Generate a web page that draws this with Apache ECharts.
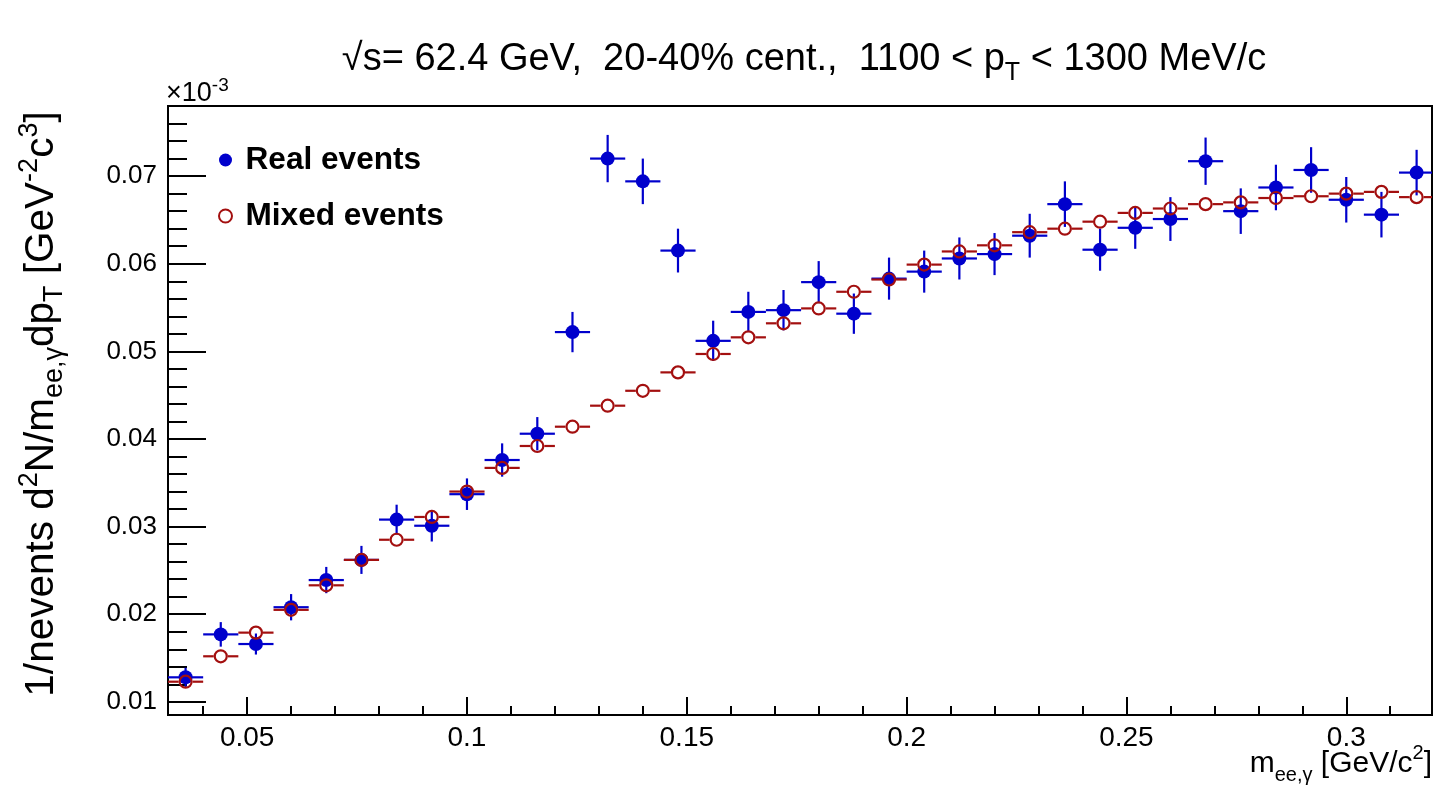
<!DOCTYPE html>
<html>
<head>
<meta charset="utf-8">
<script src="https://cdn.jsdelivr.net/npm/echarts@6/dist/echarts.min.js"></script>
<style>
  html, body { margin: 0; padding: 0; background: #fff; }
  #chart { width: 1436px; height: 786px; }
</style>
</head>
<body>
<div id="chart"></div>
<script>
// Bin centres of the m_ee,gamma histogram (GeV/c^2), bin width 0.008
const bins = [0.036, 0.044, 0.052, 0.060, 0.068, 0.076, 0.084, 0.092, 0.100, 0.108,
              0.116, 0.124, 0.132, 0.140, 0.148, 0.156, 0.164, 0.172, 0.180, 0.188,
              0.196, 0.204, 0.212, 0.220, 0.228, 0.236, 0.244, 0.252, 0.260, 0.268,
              0.276, 0.284, 0.292, 0.300, 0.308, 0.316];
const binHalfWidth = 0.004;

// Same-event pairs (x10^-3)
const realValues = [0.0128, 0.0177, 0.0166, 0.0208, 0.0239, 0.0262, 0.0308, 0.0301, 0.0337, 0.0376,
                    0.0406, 0.0522, 0.0720, 0.0694, 0.0615, 0.0512, 0.0545, 0.0547, 0.0579, 0.0543,
                    0.0583, 0.0591, 0.0606, 0.0611, 0.0632, 0.0668, 0.0616, 0.0641, 0.0651, 0.0717,
                    0.0660, 0.0687, 0.0707, 0.0673, 0.0656, 0.0704];
const realErrors = [0.0011, 0.0014, 0.0012, 0.0015, 0.0015, 0.0016, 0.0017, 0.0018, 0.0018, 0.0019,
                    0.0019, 0.0023, 0.0027, 0.0026, 0.0025, 0.0023, 0.0023, 0.0023, 0.0024, 0.0023,
                    0.0024, 0.0024, 0.0024, 0.0024, 0.0025, 0.0026, 0.0024, 0.0024, 0.0025, 0.0027,
                    0.0026, 0.0026, 0.0026, 0.0026, 0.0026, 0.0026];

// Mixed-event background (x10^-3)
const mixedValues = [0.0123, 0.0152, 0.0179, 0.0205, 0.0233, 0.0262, 0.0285, 0.0311, 0.0340, 0.0367,
                     0.0392, 0.0414, 0.0438, 0.0455, 0.0476, 0.0497, 0.0516, 0.0532, 0.0549, 0.0568,
                     0.0582, 0.0599, 0.0614, 0.0621, 0.0636, 0.0640, 0.0648, 0.0658, 0.0663, 0.0668,
                     0.0670, 0.0675, 0.0677, 0.0680, 0.0682, 0.0676];

// Axis ticks
const xMajorTicks = [0.05, 0.1, 0.15, 0.2, 0.25, 0.3];
const xMinorTicks = [0.04, 0.06, 0.07, 0.08, 0.09, 0.11, 0.12, 0.13, 0.14, 0.16, 0.17, 0.18, 0.19,
                     0.21, 0.22, 0.23, 0.24, 0.26, 0.27, 0.28, 0.29, 0.31];
const yMajorTicks = [0.01, 0.02, 0.03, 0.04, 0.05, 0.06, 0.07];
const yMinorTicks = [0.012, 0.014, 0.016, 0.018, 0.022, 0.024, 0.026, 0.028, 0.032, 0.034, 0.036, 0.038,
                     0.042, 0.044, 0.046, 0.048, 0.052, 0.054, 0.056, 0.058, 0.062, 0.064, 0.066, 0.068,
                     0.072, 0.074, 0.076];

const FONT = "'Liberation Sans', Arial, Helvetica, sans-serif";
const BLUE = '#0000cc';
const RED = '#a30f0f';
const X_MIN = 0.032, X_MAX = 0.3195, Y_MIN = 0.0085, Y_MAX = 0.078;

const realData = bins.map((b, i) => [b, realValues[i], realErrors[i]]);
const mixedData = bins.map((b, i) => [b, mixedValues[i], 0]);

function errorBars(color, gap) {
  return function (params, api) {
    const x = api.value(0), y = api.value(1), e = api.value(2);
    const c = api.coord([x, y]);
    const lo = api.coord([x - binHalfWidth, y]);
    const hi = api.coord([x + binHalfWidth, y]);
    const style = { stroke: color, lineWidth: 2.2 };
    const children = [
      { type: 'line', shape: { x1: lo[0], y1: c[1], x2: c[0] - gap, y2: c[1] }, style },
      { type: 'line', shape: { x1: c[0] + gap, y1: c[1], x2: hi[0], y2: c[1] }, style }
    ];
    if (e > 0) {
      const top = api.coord([x, y + e]);
      const bot = api.coord([x, y - e]);
      children.push({ type: 'line', shape: { x1: c[0], y1: top[1], x2: c[0], y2: bot[1] }, style });
    }
    return { type: 'group', children };
  };
}

const tickFmt = v => String(+(+v).toFixed(3));

function richSet(main, small, lh) {
  return {
    n: { fontFamily: FONT, fontSize: main, lineHeight: lh, color: '#000' },
    sup: { fontFamily: FONT, fontSize: small, verticalAlign: 'top', color: '#000' },
    sub: { fontFamily: FONT, fontSize: small, verticalAlign: 'bottom', color: '#000' }
  };
}

const chart = echarts.init(document.getElementById('chart'), null, { renderer: 'canvas' });
chart.setOption({
  animation: false,
  backgroundColor: '#fff',
  grid: {
    left: 168, right: 4, top: 106, bottom: 71,
    show: true, borderColor: '#000', borderWidth: 2,
    containLabel: false, outerBoundsMode: 'none'
  },
  xAxis: [
    {
      type: 'value', position: 'bottom', min: X_MIN, max: X_MAX,
      axisLine: { show: true, lineStyle: { color: '#000', width: 2 } },
      axisTick: { show: true, inside: true, length: 18, customValues: xMajorTicks,
                  lineStyle: { color: '#000', width: 2 } },
      axisLabel: { show: true, customValues: xMajorTicks, formatter: tickFmt, margin: 9,
                   fontFamily: FONT, fontSize: 28, color: '#000' },
      splitLine: { show: false }
    },
    {
      type: 'value', position: 'bottom', min: X_MIN, max: X_MAX,
      axisLine: { show: false },
      axisTick: { show: true, inside: true, length: 9, customValues: xMinorTicks,
                  lineStyle: { color: '#000', width: 2 } },
      axisLabel: { show: false },
      splitLine: { show: false }
    }
  ],
  yAxis: [
    {
      type: 'value', position: 'left', min: Y_MIN, max: Y_MAX,
      axisLine: { show: true, lineStyle: { color: '#000', width: 2 } },
      axisTick: { show: true, inside: true, length: 38, customValues: yMajorTicks,
                  lineStyle: { color: '#000', width: 2 } },
      axisLabel: { show: true, customValues: yMajorTicks, formatter: tickFmt, margin: 11,
                   fontFamily: FONT, fontSize: 26, color: '#000' },
      splitLine: { show: false }
    },
    {
      type: 'value', position: 'left', min: Y_MIN, max: Y_MAX,
      axisLine: { show: false },
      axisTick: { show: true, inside: true, length: 19, customValues: yMinorTicks,
                  lineStyle: { color: '#000', width: 2 } },
      axisLabel: { show: false },
      splitLine: { show: false }
    }
  ],
  legend: {
    data: ['Real events', 'Mixed events'],
    orient: 'vertical', left: 213, top: 137,
    itemWidth: 30, itemHeight: 13, itemGap: 20,
    selectedMode: false,
    textStyle: { fontFamily: FONT, fontSize: 31.6, fontWeight: 'bold', color: '#000', lineHeight: 36 }
  },
  graphic: [
    {
      type: 'text', x: 804, y: 60, silent: true,
      style: {
        text: '{n|√s= 62.4 GeV,  20-40% cent.,  1100 < p}{sub|T}{n| < 1300 MeV/c}',
        align: 'center', verticalAlign: 'middle',
        rich: richSet(38, 25, 52)
      }
    },
    {
      type: 'text', x: 166, y: 94, silent: true,
      style: {
        text: '{n|×10}{sup|-3}',
        align: 'left', verticalAlign: 'middle',
        rich: richSet(27, 19, 36)
      }
    },
    {
      type: 'text', x: 42, y: 404, rotation: Math.PI / 2, silent: true,
      style: {
        text: '{n|1/nevents d}{sup|2}{n|N/m}{sub|ee,γ}{n|dp}{sub|T}{n| [GeV}{sup|-2}{n|c}{sup|3}{n|]}',
        align: 'center', verticalAlign: 'middle',
        rich: richSet(40.5, 27, 52)
      }
    },
    {
      type: 'text', x: 1432, y: 764, silent: true,
      style: {
        text: '{n|m}{sub|ee,γ}{n| [GeV/c}{sup|2}{n|]}',
        align: 'right', verticalAlign: 'middle',
        rich: richSet(30, 20, 42)
      }
    }
  ],
  series: [
    {
      name: 'realErr', type: 'custom', xAxisIndex: 0, yAxisIndex: 0, clip: true, silent: true,
      renderItem: errorBars(BLUE, 0), data: realData, encode: { x: 0, y: 1 }
    },
    {
      name: 'Real events', type: 'scatter', xAxisIndex: 0, yAxisIndex: 0, silent: true,
      symbol: 'circle', symbolSize: 14, data: realData.map(d => [d[0], d[1]]),
      itemStyle: { color: BLUE, opacity: 1 }
    },
    {
      name: 'mixedErr', type: 'custom', xAxisIndex: 0, yAxisIndex: 0, clip: true, silent: true,
      renderItem: errorBars(RED, 7), data: mixedData, encode: { x: 0, y: 1 }
    },
    {
      name: 'Mixed events', type: 'scatter', xAxisIndex: 0, yAxisIndex: 0, silent: true,
      symbol: 'circle', symbolSize: 12, data: mixedData.map(d => [d[0], d[1]]),
      itemStyle: { color: 'rgba(255,255,255,0)', borderColor: RED, borderWidth: 2.2, opacity: 1 }
    }
  ]
});
</script>
</body>
</html>
